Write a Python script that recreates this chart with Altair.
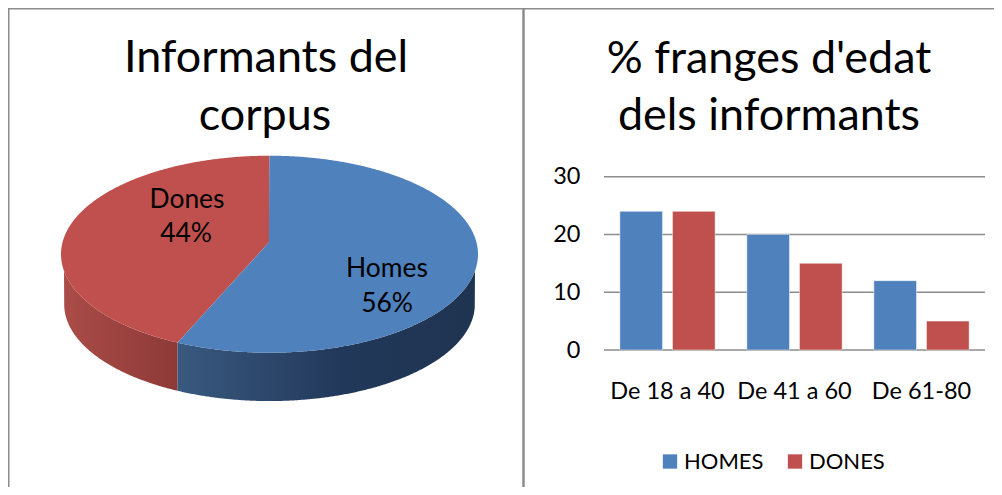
import altair as alt
import numpy as np
import pandas as pd

# ---- data
pie_labels = ["Homes", "Dones"]
pie_shares = [56, 44]
age_groups = ["De 18 a 40", "De 41 a 60", "De 61-80"]
homes_values = [24, 20, 12]
dones_values = [24, 15, 5]
series_names = ["HOMES", "DONES"]
grid_values = [0, 10, 20, 30]
titles_left = ["Informants del", "corpus"]
titles_right = ["% franges d'edat", "dels informants"]

BLUE = "#4f81bd"
RED = "#c0504d"
FONT = "Lato"
W, H = 986, 479


def px(v):
    return v - 8


# ---- 3-D pie geometry: circle seen in perspective
CX = 269.5
HALF_W = 208.5
APEX_Y, FAR_Y, NEAR_Y = 241.7, 155.7, 352.7
c = 0.127
b = -86 + FAR_Y * c
A = HALF_W * np.sqrt(1 - c * c)
DEPTH = 50
SHRINK = 0.985


def project(deg):
    t = np.radians(deg)
    X, Y = np.sin(t), np.cos(t)
    w = 1 + c * Y
    return CX + A * X / w, (APEX_Y + b * Y) / w


t = np.arange(0, 360.0, 0.5)
rx, ry = project(t)
il, ir = int(np.argmin(rx)), int(np.argmax(rx))
arc_up_x = np.concatenate([rx[il:], rx[:ir + 1]])
arc_up_y = np.concatenate([ry[il:], ry[:ir + 1]])
arc_lo_x = rx[ir:il + 1][::-1]
arc_lo_y = ry[ir:il + 1][::-1]
X_MIN, X_MAX = rx.min(), rx.max()


def up(x):
    return np.interp(x, arc_up_x, arc_up_y)


def lo(x):
    return np.interp(x, arc_lo_x, arc_lo_y)


split_x, split_y = project(pie_shares[0] / 100 * 360 + 1.5)
split_x, split_y = float(split_x), float(split_y)
u = np.linspace(0, np.pi, 500)
grid = (X_MAX - X_MIN) / 2 * (-np.cos(u)) + (X_MIN + X_MAX) / 2
grid = np.unique(np.concatenate([grid, [split_x, CX]]))


def wedge_line(x):
    return APEX_Y + (split_y - APEX_Y) * (CX - x) / (CX - split_x)


# top face: blue slice
gb_l = grid[(grid >= split_x) & (grid < CX)]
gb_r = grid[grid >= CX]
blue_top = pd.DataFrame({
    "x": np.concatenate([gb_l, gb_r]),
    "y": np.concatenate([wedge_line(gb_l), up(gb_r)]),
    "y2": np.concatenate([lo(gb_l), lo(gb_r)]),
})
# top face: red slice
gr_l = grid[grid <= split_x]
gr_r = grid[(grid > split_x) & (grid <= CX)]
red_top = pd.DataFrame({
    "x": np.concatenate([gr_l, gr_r]),
    "y": np.concatenate([up(gr_l), up(gr_r)]),
    "y2": np.concatenate([lo(gr_l), wedge_line(gr_r)]),
})


def side(xs):
    inner = CX + (xs - CX) / SHRINK
    inside = (inner >= X_MIN) & (inner <= X_MAX)
    bottom = np.where(inside, lo(inner) * SHRINK + (1 - SHRINK) * APEX_Y + DEPTH, lo(xs))
    return pd.DataFrame({"x": xs, "y": lo(xs), "y2": np.maximum(bottom, lo(xs))})


blue_side = side(grid[grid >= split_x])
red_side = side(grid[grid <= split_x])

x_canvas = alt.X("x:Q", scale=alt.Scale(domain=[8, 8 + W], nice=False, zero=False), axis=None)
y_canvas = alt.Y("y:Q", scale=alt.Scale(domain=[8 + H, 8], nice=False, zero=False), axis=None)


def face(df, color):
    return alt.Chart(df).mark_area(orient="vertical", color=color).encode(
        x=x_canvas, y=y_canvas, y2="y2:Q"
    )


def hgrad(stops):
    return alt.Gradient(
        gradient="linear",
        x1=0, x2=1, y1=0, y2=0,
        stops=[alt.GradientStop(offset=o, color=col) for o, col in stops],
    )


pie = alt.layer(
    face(red_side, hgrad([(0, "#ab4c48"), (1, "#8d3a37")])),
    face(blue_side, hgrad([(0, "#39597f"), (0.55, "#22385a"), (1, "#1f3450")])),
    face(red_top, RED),
    face(blue_top, BLUE),
)

blank = alt.Data(values=[{}])


def label(txt, x, y, size, color="#000000"):
    return alt.Chart(blank).mark_text(
        text=txt, font=FONT, fontSize=size, color=color, align="center", baseline="middle"
    ).encode(x=alt.value(px(x)), y=alt.value(px(y)))


def rule(x, x2, y, y2, w):
    return alt.Chart(blank).mark_rule(color="#8c8c8c", strokeWidth=w).encode(
        x=alt.value(px(x)), x2=alt.value(px(x2)), y=alt.value(px(y)), y2=alt.value(px(y2))
    )


frame = alt.layer(
    rule(8, 8, 8, 8 + H, 3),
    rule(8, 8 + W, 8, 8, 3),
    rule(523.5, 523.5, 8, 8 + H, 2.5),
)

TITLE = 44.9
LAB = 26.4
texts = alt.layer(
    label(titles_left[0], 266, 59, TITLE),
    label(titles_left[1], 265, 117, TITLE),
    label(titles_right[0], 769, 60, TITLE),
    label(titles_right[1], 769, 117, TITLE),
    label(pie_labels[1], 187, 199.5, LAB),
    label(f"{pie_shares[1]}%", 186, 234, LAB),
    label(pie_labels[0], 387, 269, LAB),
    label(f"{pie_shares[0]}%", 387, 304, LAB),
)

# ---- bar panel
bars_df = pd.DataFrame({
    "group": age_groups * 2,
    "series": [series_names[0]] * 3 + [series_names[1]] * 3,
    "value": homes_values + dones_values,
})
y_bar = alt.Scale(domain=[0, 30], range=[px(350), px(176.7)], nice=False)
x_bar = alt.Scale(domain=age_groups, range=[px(604), px(985)], paddingInner=0.25, paddingOuter=0.125)
y_axis = alt.Axis(
    orient="left", offset=-px(580), domain=False, ticks=False, values=grid_values,
    labelFont=FONT, labelFontSize=23.5, labelColor="#000000", labelPadding=0, grid=False,
)

grid_rules = alt.Chart(pd.DataFrame({"value": grid_values})).mark_rule(
    color="#8c8c8c", strokeWidth=1.5
).encode(
    y=alt.Y("value:Q", scale=y_bar, axis=y_axis, title=None),
    x=alt.value(px(604)),
    x2=alt.value(px(985)),
)

bars = alt.Chart(bars_df).mark_bar(stroke="#ffffff", strokeOpacity=0.45, strokeWidth=1).encode(
    x=alt.X(
        "group:N", scale=x_bar, sort=age_groups, title=None,
        axis=alt.Axis(
            orient="bottom", offset=-(H - px(379)), domain=False, ticks=False, labelAngle=0,
            labelFont=FONT, labelFontSize=23.5, labelColor="#000000", labelPadding=0,
            labelOverlap=False, labelLimit=200, grid=False,
        ),
    ),
    xOffset=alt.XOffset("series:N", sort=series_names, scale=alt.Scale(paddingInner=0.19)),
    y=alt.Y("value:Q", scale=y_bar, title=None, axis=y_axis),
    color=alt.Color(
        "series:N", sort=series_names,
        scale=alt.Scale(domain=series_names, range=[BLUE, RED]),
        legend=alt.Legend(
            orient="none", legendX=px(659), legendY=px(450.5), direction="horizontal", title=None,
            symbolType="square", symbolSize=205, symbolStrokeWidth=0,
            labelFont=FONT, labelFontSize=22, labelColor="#000000",
            labelOffset=3, columnPadding=20,
        ),
    ),
)

bar_panel = alt.layer(grid_rules, bars)

chart = (
    alt.layer(pie, frame, texts, bar_panel)
    .resolve_scale(x="independent", y="independent")
    .properties(width=W, height=H, padding=0, autosize=alt.AutoSizeParams(type="none"), background="#ffffff")
    .configure_view(stroke=None)
)

chart.save("out.html", embed_options={"renderer": "svg", "actions": False})
